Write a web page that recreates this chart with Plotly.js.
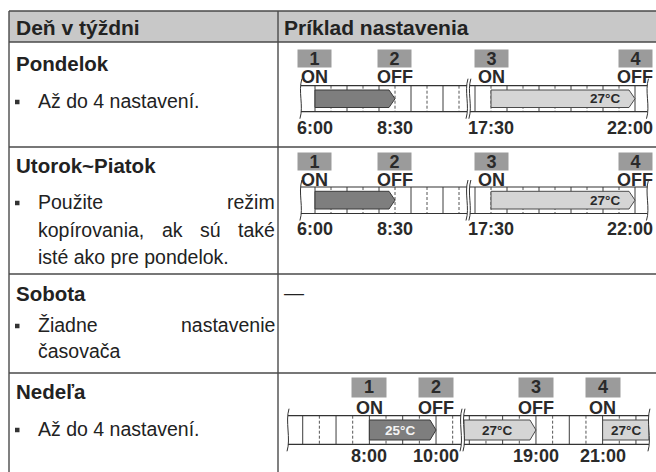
<!DOCTYPE html>
<html><head><meta charset="utf-8">
<script src="https://cdn.plot.ly/plotly-3.0.1.min.js"></script>
<style>html,body{margin:0;padding:0;background:#fff}#chart{width:656px;height:472px}</style>
</head><body><div id="chart"></div>
<script>
// ---------------- data ----------------
const tableHeaders = ['Deň v týždni', 'Príklad nastavenia'];
const days = ['Pondelok', 'Utorok~Piatok', 'Sobota', 'Nedeľa'];
const dayNotes = [
  ['Až do 4 nastavení.'],
  ['Použite režim', 'kopírovania, ak sú také', 'isté ako pre pondelok.'],
  ['Žiadne nastavenie', 'časovača'],
  ['Až do 4 nastavení.']
];
const saturdayExample = '—';
const switchNumbers = ['1', '2', '3', '4'];
const weekdayActions = ['ON', 'OFF', 'ON', 'OFF'];
const weekdayTimes = ['6:00', '8:30', '17:30', '22:00'];
const weekdayBarStart = ['6:00', '17:30'];
const weekdayBarEnd = ['8:30', '22:00'];
const weekdayBarTemp = [null, '27°C'];
const sundayActions = ['ON', 'OFF', 'OFF', 'ON'];
const sundayTimes = ['8:00', '10:00', '19:00', '21:00'];
const sundayBarStart = ['8:00', null, '21:00'];   // null = continues from outside the visible span
const sundayBarEnd = ['10:00', '19:00', null];
const sundayBarTemp = ['25°C', '27°C', '27°C'];
const visibleSpans = [[5.56, 10.75], [16.84, 22.39]];  // hours shown left / right of the break

// ---------------- layout constants ----------------
const FONT = 'Liberation Sans, Arial, sans-serif';
const W = 656, H = 472;
const L = {
  tableLeft: 9, colDiv: 278, tableRight: 662,
  rowLines: [11, 42, 147, 274, 373],
  headerY: 27, headerX: [15, 283], headerSize: 21,
  titleX: 15, titleY: [63, 165, 293, 391], titleSize: 20.5,
  noteX: 37, noteRight: 274, noteY: [101, 202, 325, 429], noteStep: [28, 27.5, 26, 28],
  bulletX: 15, bulletSize: 4.5,
  textSize: 19.5, diagSize: 18, tempSize: 13.5,
  lineColor: '#4a4a4a', textColor: '#222'
};
const geos = [
  {x6: 315, x17: 475, pph: 32, boxY: 58.3, boxW: 33, boxH: 17, actY: 76.9, rect: [85.7, 111.7], bar: [90, 107.5], timeY: 127.5, tip: 6},
  {x6: 315, x17: 475, pph: 32, boxY: 161.1, boxW: 33, boxH: 17, actY: 179.9, rect: [187, 213.5], bar: [191.3, 209], timeY: 228.5, tip: 6},
  {x6: 302.7, x17: 469.3, pph: 33.33, boxY: 387.5, boxW: 34, boxH: 18.5, actY: 407.7, rect: [415.7, 444.3], bar: [420, 440], timeY: 455.8, tip: 6}
];
const diagrams = [
  {actions: weekdayActions, times: weekdayTimes, barStart: weekdayBarStart, barEnd: weekdayBarEnd, temps: weekdayBarTemp, geo: geos[0]},
  {actions: weekdayActions, times: weekdayTimes, barStart: weekdayBarStart, barEnd: weekdayBarEnd, temps: weekdayBarTemp, geo: geos[1]},
  {actions: sundayActions, times: sundayTimes, barStart: sundayBarStart, barEnd: sundayBarEnd, temps: sundayBarTemp, geo: geos[2]}
];

// ---------------- helpers ----------------
const ctx = document.createElement('canvas').getContext('2d');
function textW(s, size, bold) { ctx.font = (bold ? 'bold ' : '') + size + 'px "Liberation Sans"'; return ctx.measureText(s).width; }
function hours(s) { const p = s.split(':'); return +p[0] + (+p[1]) / 60; }
function ann(o) {
  const base = {showarrow: false, xref: 'x', yref: 'y', xanchor: 'left', yanchor: 'middle', borderpad: 0,
    font: {family: FONT, size: L.textSize, color: L.textColor}};
  return Object.assign(base, o);
}
const traces = [{type: 'scatter', x: [], y: [], xaxis: 'x', yaxis: 'y', hoverinfo: 'skip', showlegend: false}];
const shapes = [], annotations = [];
const layout = {
  width: W, height: H, margin: {l: 0, r: 0, t: 0, b: 0, pad: 0},
  paper_bgcolor: '#ffffff', plot_bgcolor: 'rgba(0,0,0,0)', showlegend: false,
  xaxis: {range: [0, W], domain: [0, 1], visible: false, fixedrange: true},
  yaxis: {range: [H, 0], domain: [0, 1], visible: false, fixedrange: true},
  shapes: shapes, annotations: annotations
};

// ---------------- table ----------------
shapes.push({type: 'rect', xref: 'x', yref: 'y', x0: L.tableLeft, x1: L.tableRight, y0: L.rowLines[0], y1: L.rowLines[1],
  fillcolor: '#c8c8c8', line: {width: 0}, layer: 'below'});
L.rowLines.forEach(y => shapes.push({type: 'line', xref: 'x', yref: 'y', x0: L.tableLeft, x1: L.tableRight, y0: y, y1: y,
  line: {color: L.lineColor, width: 1.4}}));
[L.tableLeft, L.colDiv].forEach(x => shapes.push({type: 'line', xref: 'x', yref: 'y', x0: x, x1: x, y0: L.rowLines[0], y1: H + 5,
  line: {color: L.lineColor, width: 1.4}}));
tableHeaders.forEach((t, i) => annotations.push(ann({text: t, x: L.headerX[i], y: L.headerY,
  font: {family: FONT, size: L.headerSize, color: L.textColor, weight: 'bold'}})));
days.forEach((t, i) => annotations.push(ann({text: t, x: L.titleX, y: L.titleY[i],
  font: {family: FONT, size: L.titleSize, color: L.textColor, weight: 'bold'}})));
annotations.push(ann({text: saturdayExample, x: L.headerX[1], y: L.titleY[2], font: {family: FONT, size: 20, color: L.textColor}}));

dayNotes.forEach((lines, r) => {
  const yb = L.noteY[r];
  shapes.push({type: 'rect', xref: 'x', yref: 'y', x0: L.bulletX, x1: L.bulletX + L.bulletSize,
    y0: yb - L.bulletSize / 2 + 1, y1: yb + L.bulletSize / 2 + 1, fillcolor: '#333', line: {width: 0}});
  lines.forEach((line, k) => {
    const y = yb + k * L.noteStep[r];
    if (k === lines.length - 1) { annotations.push(ann({text: line, x: L.noteX, y: y})); return; }
    const words = line.split(' ');
    const ws = words.map(w => textW(w, L.textSize, false));
    const gap = (L.noteRight - L.noteX - ws.reduce((a, b) => a + b, 0)) / (words.length - 1);
    let x = L.noteX;
    words.forEach((w, i) => { annotations.push(ann({text: w, x: x, y: y})); x += ws[i] + gap; });
  });
});

// ---------------- timeline diagrams ----------------
function wavy(X, top, bot) {
  const a = top - 7, b = bot + 7;
  return 'M ' + (X + 1) + ',' + a + ' C ' + (X - 3) + ',' + (a + 13) + ' ' + (X + 3) + ',' + (b - 13) + ' ' + (X - 1) + ',' + b;
}
let axisN = 2;
diagrams.forEach(d => {
  const g = d.geo;
  const axes = visibleSpans.map((span, j) => {
    const px0 = j === 0 ? g.x6 + (span[0] - 6) * g.pph : g.x17 + (span[0] - 17) * g.pph;
    const px1 = px0 + (span[1] - span[0]) * g.pph;
    const id = 'x' + axisN;
    layout['xaxis' + axisN] = {domain: [px0 / W, px1 / W], range: span.slice(), visible: false, fixedrange: true, anchor: 'y'};
    traces.push({type: 'scatter', x: [], y: [], xaxis: id, yaxis: 'y', hoverinfo: 'skip', showlegend: false});
    axisN++;
    for (let h = Math.ceil(span[0] * 2) / 2; h <= span[1] + 1e-9; h += 0.5) {
      const full = Math.abs(h - Math.round(h)) < 1e-6;
      shapes.push({type: 'line', xref: id, yref: 'y', x0: h, x1: h, y0: g.rect[0], y1: g.rect[1], layer: 'below',
        line: {color: full ? '#3c3c3c' : '#555', width: 1, dash: full ? 'solid' : '3px,2px'}});
    }
    g.rect.forEach(y => shapes.push({type: 'line', xref: id, yref: 'y', x0: span[0], x1: span[1], y0: y, y1: y, layer: 'below',
      line: {color: '#333', width: 1.2}}));
    [px0, px1].forEach(X => shapes.push({type: 'path', xref: 'x', yref: 'y', path: wavy(X, g.rect[0], g.rect[1]),
      line: {color: '#333', width: 1}, layer: 'above'}));
    return {id: id, px0: px0, span: span};
  });
  const segOf = t => axes.find(a => t >= a.span[0] - 1e-9 && t <= a.span[1] + 1e-9);

  d.barStart.forEach((s, b) => {
    const t0 = s ? hours(s) : null, t1 = d.barEnd[b] ? hours(d.barEnd[b]) : null;
    const ax = segOf(t0 !== null ? t0 : t1);
    const a = t0 !== null ? t0 : ax.span[0], e = t1 !== null ? t1 : ax.span[1];
    const arrow = t1 !== null;
    const tip = g.tip / g.pph;
    const top = g.bar[0], bot = g.bar[1], mid = (top + bot) / 2;
    const temp = d.temps[b];
    const light = temp !== null && parseFloat(temp) >= 27;
    traces.push({type: 'scatter', mode: 'lines', xaxis: ax.id, yaxis: 'y', hoverinfo: 'skip', showlegend: false,
      x: arrow ? [a, e - tip, e, e - tip, a, a] : [a, e, e, a, a],
      y: arrow ? [top, top, mid, bot, bot, top] : [top, top, bot, bot, top],
      fill: 'toself', fillcolor: light ? '#d5d5d5' : '#7e7e7e', line: {color: light ? '#4a4a4a' : '#3a3a3a', width: 1}});
    if (temp) {
      const bodyEnd = arrow ? e - tip : e;
      const long = (e - a) > 3;
      annotations.push(ann({text: temp, xref: ax.id, x: long ? bodyEnd - 8 / g.pph : (a + bodyEnd) / 2, y: mid,
        xanchor: long ? 'right' : 'center',
        font: {family: FONT, size: L.tempSize, weight: 'bold', color: light ? '#2a2a2a' : '#f4f4f4'}}));
    }
  });

  d.times.forEach((ts, k) => {
    const t = hours(ts), ax = segOf(t);
    const cpx = ax.px0 + (t - ax.span[0]) * g.pph;
    annotations.push(ann({text: switchNumbers[k], xref: ax.id, x: t, y: g.boxY, xanchor: 'center', width: g.boxW, height: g.boxH,
      bgcolor: '#9b9b9b', font: {family: FONT, size: L.diagSize, weight: 'bold', color: '#2a2a2a'}}));
    annotations.push(ann({text: d.actions[k], xref: ax.id, x: t, y: g.actY, xanchor: 'center', height: 16,
      font: {family: FONT, size: L.diagSize, weight: 'bold', color: '#2a2a2a'}}));
    const tw = textW(ts, L.diagSize, true);
    const over = cpx + tw / 2 - (W - 3);
    annotations.push(ann({text: ts, xref: ax.id, x: t, y: g.timeY, xanchor: 'center', xshift: over > 0 ? -over : 0,
      font: {family: FONT, size: L.diagSize, weight: 'bold', color: '#2a2a2a'}}));
  });
});

Plotly.newPlot('chart', traces, layout, {staticPlot: true, displayModeBar: false});
</script>
</body></html>
